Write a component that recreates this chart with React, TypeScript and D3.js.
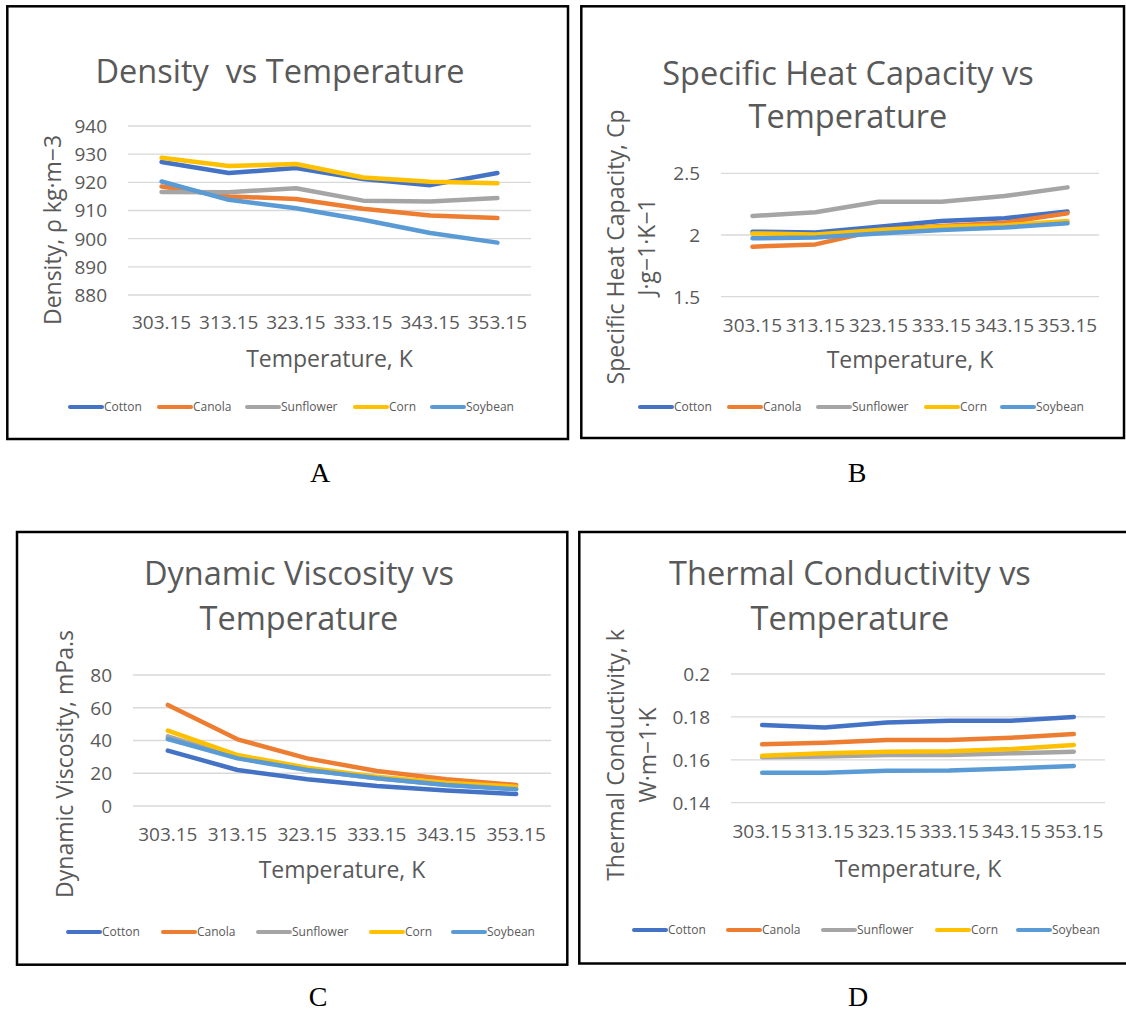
import React from 'react';
import * as d3 from 'd3';

// categories and series
const temperatures = ['303.15', '313.15', '323.15', '333.15', '343.15', '353.15'];
const oils = ['Cotton', 'Canola', 'Sunflower', 'Corn', 'Soybean'];
const oilColors = ['#4472C4', '#ED7D31', '#A5A5A5', '#FFC000', '#5B9BD5'];

// A - density, kg/m3 (rows follow `oils`)
const densityTicks = [880, 890, 900, 910, 920, 930, 940];
const densityValues = [
  [927.2, 923.3, 925.1, 921.2, 919.0, 923.3],
  [918.5, 915.0, 914.1, 910.6, 908.2, 907.3],
  [916.6, 916.5, 917.9, 913.5, 913.2, 914.4],
  [928.7, 925.8, 926.5, 921.7, 920.2, 919.7],
  [920.3, 913.8, 910.8, 906.7, 902.0, 898.6],
];

// B - specific heat capacity, J/g/K
const heatTicks = [1.5, 2, 2.5];
const heatValues = [
  [2.027, 2.02, 2.067, 2.113, 2.135, 2.19],
  [1.905, 1.924, 2.04, 2.073, 2.1, 2.176],
  [2.154, 2.184, 2.27, 2.27, 2.316, 2.386],
  [2.013, 2.005, 2.04, 2.067, 2.08, 2.113],
  [1.973, 1.98, 2.013, 2.04, 2.06, 2.095],
];

// C - dynamic viscosity, mPa.s
const viscosityTicks = [0, 20, 40, 60, 80];
const viscosityValues = [
  [33.8, 22.0, 16.3, 12.2, 9.4, 7.3],
  [61.7, 40.7, 29.1, 21.4, 16.3, 12.8],
  [42.5, 29.5, 22.2, 17.0, 13.0, 10.5],
  [46.0, 31.1, 23.4, 17.9, 14.2, 11.8],
  [40.9, 29.1, 22.0, 16.9, 12.8, 10.2],
];

// D - thermal conductivity, W/m/K
const conductivityTicks = [0.14, 0.16, 0.18, 0.2];
const conductivityValues = [
  [0.1762, 0.1751, 0.1774, 0.1782, 0.1782, 0.18],
  [0.1672, 0.168, 0.1692, 0.1692, 0.1703, 0.172],
  [0.1612, 0.1615, 0.1622, 0.1622, 0.163, 0.1638],
  [0.1619, 0.163, 0.1637, 0.164, 0.165, 0.1669],
  [0.154, 0.154, 0.1549, 0.155, 0.156, 0.1571],
];

const FONT = '"Open Sans", "Noto Sans", sans-serif';
const GREY = '#595959';

interface PanelProps {
  letter: string;
  letterPos: [number, number];
  box: [number, number, number, number];
  plot: { left: number; right: number; top: number; bottom: number };
  title: string[];
  titleX: number;
  titleY: number[];
  yTitle: string[];
  yTitleX: number[];
  yTitleY: number;
  ticks: number[];
  values: number[][];
  tickBaseline: number;
  xTitleY: number;
  legendY: number;
  legendX: number[];
}

const Panel: React.FC<PanelProps> = (p) => {
  const x = d3.scalePoint<string>().domain(temperatures).range([p.plot.left, p.plot.right]).padding(0.5);
  const y = d3.scaleLinear()
    .domain([p.ticks[0], p.ticks[p.ticks.length - 1]])
    .range([p.plot.bottom, p.plot.top]);
  const line = d3.line<number>()
    .x((_, i) => x(temperatures[i]) as number)
    .y(d => y(d));
  const midX = (p.plot.left + p.plot.right) / 2;
  const [bx0, by0, bx1, by1] = p.box;

  return (
    <g>
      <rect x={bx0} y={by0} width={bx1 - bx0} height={by1 - by0} fill="#fff" stroke="#000" strokeWidth={2.5} />
      {p.title.map((t, i) => (
        <text key={t} x={p.titleX} y={p.titleY[i]} textAnchor="middle" fontSize={32.5} fill={GREY}
          style={{ whiteSpace: 'pre' }}>{t}</text>
      ))}
      {p.ticks.map(t => (
        <g key={t}>
          <line x1={p.plot.left} x2={p.plot.right} y1={y(t)} y2={y(t)} stroke="#D9D9D9" strokeWidth={1.3} />
          <text x={p.plot.left - 21} y={y(t)} dy="0.36em" textAnchor="end" fontSize={19} fill={GREY}>{String(t)}</text>
        </g>
      ))}
      {temperatures.map(t => (
        <text key={t} x={x(t)} y={p.tickBaseline} textAnchor="middle" fontSize={19} fill={GREY}>{t}</text>
      ))}
      {p.yTitle.map((t, i) => (
        <text key={t} transform={`translate(${p.yTitleX[i]},${p.yTitleY}) rotate(-90)`} textAnchor="middle"
          dominantBaseline="central" fontSize={23} fill={GREY}>{t}</text>
      ))}
      <text x={midX} y={p.xTitleY} textAnchor="middle" fontSize={23} fill={GREY}>Temperature, K</text>
      {p.values.map((row, i) => (
        <path key={oils[i]} d={line(row) || ''} fill="none" stroke={oilColors[i]} strokeWidth={4.5}
          strokeLinecap="round" strokeLinejoin="round" />
      ))}
      {oils.map((o, i) => (
        <g key={o} transform={`translate(${p.legendX[i]},${p.legendY})`}>
          <line x1={0} x2={32} y1={0} y2={0} stroke={oilColors[i]} strokeWidth={4} strokeLinecap="round" />
          <text x={34} y={0} dy="0.36em" fontSize={12} fill={GREY}>{o}</text>
        </g>
      ))}
      <text x={p.letterPos[0]} y={p.letterPos[1]} textAnchor="middle" fontSize={28}
        fontFamily='"Liberation Serif", "Times New Roman", serif' fill="#000">{p.letter}</text>
    </g>
  );
};

export default function App() {
  return (
    <svg width={1126} height={1012} style={{ position: 'absolute', left: 0, top: 0, fontFamily: FONT }}>
      <rect width={1126} height={1012} fill="#fff" />
      <Panel letter="A" letterPos={[320, 482]} box={[7.3, 6.3, 568, 439]}
        plot={{ left: 128, right: 531, top: 126, bottom: 295 }}
        title={['Density  vs Temperature']} titleX={280} titleY={[83]}
        yTitle={['Density, ρ kg·m−3']} yTitleX={[52]} yTitleY={230}
        ticks={densityTicks} values={densityValues}
        tickBaseline={329} xTitleY={367} legendY={407} legendX={[70, 159, 247, 355, 432]} />
      <Panel letter="B" letterPos={[857, 482]} box={[581.3, 6.3, 1124, 438]}
        plot={{ left: 721, right: 1099, top: 173.3, bottom: 296.7 }}
        title={['Specific Heat Capacity vs', 'Temperature']} titleX={848} titleY={[85, 128]}
        yTitle={['Specific Heat Capacity, Cp', 'J·g−1·K−1']} yTitleX={[615, 646]} yTitleY={247}
        ticks={heatTicks} values={heatValues}
        tickBaseline={332} xTitleY={368} legendY={407} legendX={[640, 729, 818, 926, 1002]} />
      <Panel letter="C" letterPos={[318, 1006]} box={[17, 532, 567.3, 964.7]}
        plot={{ left: 133, right: 551, top: 675, bottom: 806 }}
        title={['Dynamic Viscosity vs', 'Temperature']} titleX={299} titleY={[585, 630]}
        yTitle={['Dynamic Viscosity, mPa.s']} yTitleX={[64]} yTitleY={764}
        ticks={viscosityTicks} values={viscosityValues}
        tickBaseline={841} xTitleY={878} legendY={932} legendX={[68, 163, 258, 371, 453]} />
      <Panel letter="D" letterPos={[858, 1006]} box={[579.3, 532, 1135, 963.5]}
        plot={{ left: 731, right: 1105, top: 674, bottom: 802.7 }}
        title={['Thermal Conductivity vs', 'Temperature']} titleX={850} titleY={[585, 630]}
        yTitle={['Thermal Conductivity, k', 'W·m−1·K']} yTitleX={[615, 647]} yTitleY={755}
        ticks={conductivityTicks} values={conductivityValues}
        tickBaseline={838} xTitleY={877} legendY={930} legendX={[634, 728, 823, 937, 1018]} />
    </svg>
  );
}
